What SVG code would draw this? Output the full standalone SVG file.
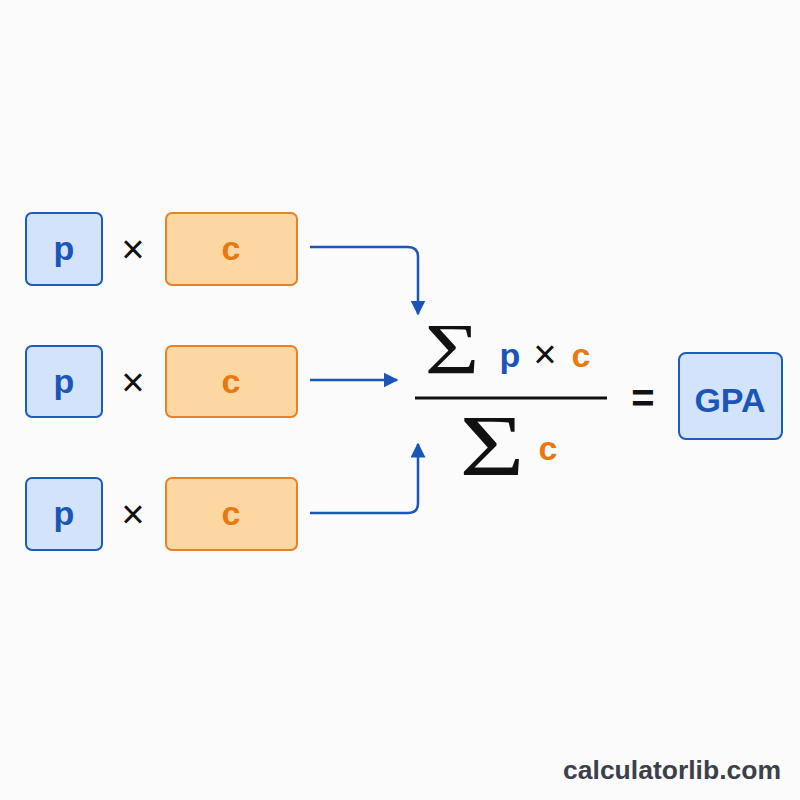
<svg xmlns="http://www.w3.org/2000/svg" width="800" height="800" viewBox="0 0 800 800">
<defs>
<marker id="ah" viewBox="0 0 10 10" refX="9" refY="5" markerWidth="15" markerHeight="15" markerUnits="userSpaceOnUse" orient="auto">
<path d="M0,0 L10,5 L0,10 z" fill="#1a56b8"/>
</marker>
<style>
.pb{fill:#d3e3fb;stroke:#1d5cbf;stroke-width:2}
.cb{fill:#fdd7a2;stroke:#e8822a;stroke-width:2}
.pt{font-family:"Liberation Sans",Arial,sans-serif;font-weight:bold;font-size:34px;fill:#1a56b8;text-anchor:middle}
.ct{font-family:"Liberation Sans",Arial,sans-serif;font-weight:bold;font-size:34px;fill:#e8780f;text-anchor:middle}
.x{font-family:"Liberation Sans",Arial,sans-serif;font-size:40px;fill:#111;text-anchor:middle}
.sig{font-family:"Liberation Serif",serif;fill:#111;text-anchor:middle}
.con{fill:none;stroke:#1a56b8;stroke-width:2.5}
</style>
</defs>
<rect width="800" height="800" fill="#fbfbfb"/>
<g id="row1">
<rect class="pb" x="26" y="213" width="76" height="72" rx="6"/>
<text class="pt" x="64" y="260">p</text>
<text class="x" x="133" y="263">×</text>
<rect class="cb" x="166" y="213" width="131" height="72" rx="6"/>
<text class="ct" x="231" y="260">c</text>
</g>
<g id="row2">
<rect class="pb" x="26" y="346" width="76" height="71" rx="6"/>
<text class="pt" x="64" y="393">p</text>
<text class="x" x="133" y="396">×</text>
<rect class="cb" x="166" y="346" width="131" height="71" rx="6"/>
<text class="ct" x="231" y="393">c</text>
</g>
<g id="row3">
<rect class="pb" x="26" y="478" width="76" height="72" rx="6"/>
<text class="pt" x="64" y="525">p</text>
<text class="x" x="133" y="528">×</text>
<rect class="cb" x="166" y="478" width="131" height="72" rx="6"/>
<text class="ct" x="231" y="525">c</text>
</g>
<g id="connectors">
<path class="con" d="M310,247 H408 Q418,247 418,257 V314" marker-end="url(#ah)"/>
<path class="con" d="M310,380 H397" marker-end="url(#ah)"/>
<path class="con" d="M310,513 H408 Q418,513 418,503 V444" marker-end="url(#ah)"/>
</g>
<g id="formula">
<text class="sig" transform="translate(452,373) scale(1.3,1)" font-size="72">Σ</text>
<text class="pt" x="510" y="367" font-size="38">p</text>
<text class="x" x="545" y="368" font-size="30">×</text>
<text class="ct" x="581" y="367" font-size="38">c</text>
<line x1="415" y1="398" x2="607" y2="398" stroke="#111" stroke-width="3"/>
<text class="sig" transform="translate(492,475) scale(1.3,1)" font-size="86">Σ</text>
<text class="ct" x="548" y="460" font-size="38">c</text>
<text x="643" y="412" font-family="Liberation Sans,Arial,sans-serif" font-weight="bold" font-size="40" fill="#111" text-anchor="middle">=</text>
</g>
<g id="gpa">
<rect class="pb" x="679" y="353" width="103" height="86" rx="7"/>
<text class="pt" x="730" y="412" font-size="40">GPA</text>
</g>
<text x="781" y="779" font-family="Liberation Sans,Arial,sans-serif" font-weight="bold" font-size="26.5" fill="#3b404b" text-anchor="end">calculatorlib.com</text>
</svg>
